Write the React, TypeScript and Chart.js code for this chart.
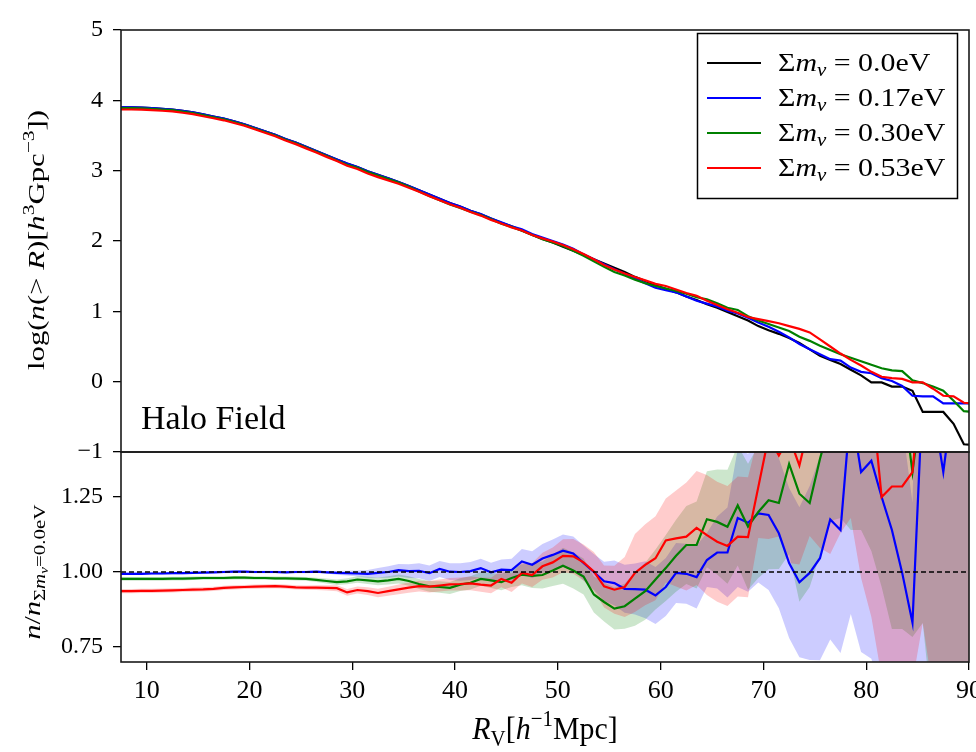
import React, { useEffect, useRef } from 'react';
import { Chart, registerables } from 'chart.js';

Chart.register(...registerables);

// ---------------- data ----------------
const R_V = [7.5, 8.5, 9.5, 10.5, 11.5, 12.5, 13.5, 14.5, 15.5, 16.5,
  17.5, 18.5, 19.5, 20.5, 21.5, 22.5, 23.5, 24.5, 25.5, 26.5,
  27.5, 28.5, 29.5, 30.5, 31.5, 32.5, 33.5, 34.5, 35.5, 36.5,
  37.5, 38.5, 39.5, 40.5, 41.5, 42.5, 43.5, 44.5, 45.5, 46.5,
  47.5, 48.5, 49.5, 50.5, 51.5, 52.5, 53.5, 54.5, 55.5, 56.5,
  57.5, 58.5, 59.5, 60.5, 61.5, 62.5, 63.5, 64.5, 65.5, 66.5,
  67.5, 68.5, 69.5, 70.5, 71.5, 72.5, 73.5, 74.5, 75.5, 76.5,
  77.5, 78.5, 79.5, 80.5, 81.5, 82.5, 83.5, 84.5, 85.5, 86.5,
  87.5, 88.5, 89.5, 90.5];

const LOGN_000 = [3.90, 3.90, 3.895, 3.89, 3.88, 3.87, 3.85, 3.83, 3.80, 3.77,
  3.74, 3.70, 3.66, 3.61, 3.56, 3.51, 3.45, 3.40, 3.34, 3.28,
  3.22, 3.16, 3.10, 3.05, 2.99, 2.94, 2.89, 2.84, 2.78, 2.72,
  2.66, 2.60, 2.54, 2.49, 2.43, 2.38, 2.32, 2.26, 2.21, 2.15,
  2.09, 2.03, 1.98, 1.92, 1.86, 1.80, 1.74, 1.68, 1.62, 1.56,
  1.49, 1.43, 1.37, 1.32, 1.27, 1.21, 1.16, 1.10, 1.05, 0.99,
  0.93, 0.87, 0.79, 0.73, 0.68, 0.62, 0.55, 0.46, 0.37, 0.31,
  0.25, 0.17, 0.09, -0.01, -0.01, -0.07, -0.07, -0.13, -0.43, -0.43,
  -0.43, -0.60, -0.89, -0.90];

const LOGN_017 = [3.90, 3.90, 3.895, 3.89, 3.88, 3.87, 3.85, 3.83, 3.80, 3.77,
  3.74, 3.70, 3.66, 3.61, 3.56, 3.51, 3.45, 3.40, 3.34, 3.28,
  3.22, 3.16, 3.10, 3.05, 2.99, 2.94, 2.89, 2.84, 2.78, 2.72,
  2.66, 2.60, 2.54, 2.49, 2.43, 2.385, 2.32, 2.265, 2.21, 2.165,
  2.10, 2.05, 2.00, 1.95, 1.89, 1.81, 1.74, 1.67, 1.60, 1.535,
  1.465, 1.40, 1.335, 1.30, 1.27, 1.21, 1.15, 1.11, 1.07, 1.01,
  0.97, 0.91, 0.84, 0.78, 0.71, 0.63, 0.535, 0.46, 0.39, 0.32,
  0.30, 0.20, 0.14, 0.12, 0.05, 0.01, -0.06, -0.20, -0.21, -0.21,
  -0.31, -0.31, -0.31, -0.31];

const LOGN_030 = [3.89, 3.89, 3.885, 3.88, 3.87, 3.86, 3.84, 3.82, 3.79, 3.76,
  3.73, 3.69, 3.65, 3.60, 3.55, 3.50, 3.44, 3.39, 3.33, 3.27,
  3.21, 3.145, 3.085, 3.04, 2.98, 2.93, 2.88, 2.83, 2.77, 2.705,
  2.64, 2.58, 2.52, 2.47, 2.415, 2.37, 2.31, 2.245, 2.20, 2.145,
  2.085, 2.025, 1.98, 1.93, 1.86, 1.79, 1.71, 1.635, 1.56, 1.51,
  1.45, 1.40, 1.36, 1.325, 1.29, 1.25, 1.20, 1.17, 1.115, 1.05,
  1.02, 0.93, 0.87, 0.82, 0.77, 0.72, 0.64, 0.58, 0.51, 0.45,
  0.39, 0.34, 0.29, 0.24, 0.19, 0.16, 0.15, 0.02, -0.02, -0.07,
  -0.13, -0.27, -0.42, -0.43];

const LOGN_053 = [3.87, 3.87, 3.867, 3.862, 3.852, 3.843, 3.823, 3.804, 3.774, 3.745,
  3.716, 3.677, 3.638, 3.589, 3.539, 3.489, 3.428, 3.377, 3.317, 3.257,
  3.196, 3.136, 3.07, 3.023, 2.961, 2.908, 2.861, 2.814, 2.757, 2.699,
  2.638, 2.58, 2.522, 2.472, 2.413, 2.361, 2.30, 2.25, 2.194, 2.149,
  2.086, 2.038, 1.994, 1.943, 1.882, 1.814, 1.741, 1.659, 1.594, 1.538,
  1.489, 1.44, 1.39, 1.36, 1.31, 1.26, 1.22, 1.15, 1.09, 1.03,
  0.98, 0.92, 0.89, 0.86, 0.83, 0.79, 0.75, 0.70, 0.60, 0.50,
  0.40, 0.31, 0.23, 0.14, 0.07, 0.05, 0.04, -0.01, -0.01, -0.10,
  -0.20, -0.21, -0.30, -0.31];

const RATIO_017 = [0.994, 0.994, 0.994, 0.995, 0.995, 0.996, 0.996, 0.997, 0.998, 0.999,
  1.000, 1.001, 1.001, 1.000, 1.000, 1.000, 0.999, 1.000, 1.000, 1.001,
  0.999, 0.997, 0.996, 0.995, 0.994, 0.997, 1.000, 1.006, 1.003, 1.004,
  0.996, 1.010, 1.001, 1.000, 1.003, 1.013, 0.999, 1.008, 1.006, 1.035,
  1.024, 1.045, 1.057, 1.071, 1.062, 1.030, 1.000, 0.969, 0.963, 0.944,
  0.943, 0.941, 0.922, 0.950, 0.997, 0.994, 0.983, 1.040, 1.065, 1.065,
  1.180, 1.164, 1.195, 1.190, 1.129, 1.030, 0.966, 0.997, 1.046, 1.175,
  1.140, 1.550, 1.333, 1.371, 1.250, 1.140, 0.997, 0.831, 1.600, 1.550,
  1.333, 1.600, 1.600, 1.600];

const RATIO_030 = [0.977, 0.977, 0.977, 0.977, 0.977, 0.978, 0.978, 0.979, 0.980, 0.980,
  0.980, 0.981, 0.981, 0.980, 0.980, 0.979, 0.979, 0.978, 0.977, 0.974,
  0.970, 0.966, 0.969, 0.975, 0.972, 0.969, 0.972, 0.977, 0.970, 0.960,
  0.952, 0.950, 0.947, 0.958, 0.964, 0.977, 0.972, 0.966, 0.980, 0.991,
  0.987, 0.990, 1.005, 1.021, 1.005, 0.985, 0.925, 0.900, 0.878, 0.886,
  0.911, 0.936, 0.975, 1.013, 1.054, 1.090, 1.090, 1.176, 1.167, 1.151,
  1.222, 1.151, 1.200, 1.239, 1.230, 1.360, 1.261, 1.230, 1.377, 1.500,
  1.600, 1.700, 1.800, 1.800, 1.800, 1.700, 1.600, 1.333, 1.600, 1.700,
  1.700, 1.700, 1.700, 1.700];

const RATIO_053 = [0.936, 0.936, 0.937, 0.937, 0.938, 0.939, 0.940, 0.941, 0.942, 0.944,
  0.947, 0.949, 0.950, 0.951, 0.952, 0.953, 0.951, 0.949, 0.948, 0.948,
  0.947, 0.946, 0.932, 0.940, 0.936, 0.930, 0.936, 0.942, 0.948, 0.953,
  0.951, 0.955, 0.959, 0.960, 0.962, 0.958, 0.955, 0.977, 0.964, 0.997,
  0.990, 1.019, 1.032, 1.054, 1.052, 1.032, 1.002, 0.952, 0.941, 0.950,
  0.997, 1.024, 1.046, 1.105, 1.112, 1.118, 1.147, 1.123, 1.101, 1.087,
  1.118, 1.116, 1.283, 1.450, 1.388, 1.450, 1.355, 1.500, 1.600, 1.700,
  1.700, 1.800, 1.700, 1.600, 1.250, 1.285, 1.285, 1.333, 1.700, 1.800,
  1.800, 1.800, 1.800, 1.800];

const ERR_017 = [0.004, 0.004, 0.004, 0.004, 0.004, 0.004, 0.004, 0.004, 0.004, 0.004,
  0.004, 0.004, 0.004, 0.004, 0.004, 0.004, 0.004, 0.004, 0.004, 0.004,
  0.004, 0.006, 0.008, 0.010, 0.013, 0.016, 0.019, 0.021, 0.023, 0.025,
  0.026, 0.027, 0.028, 0.029, 0.030, 0.031, 0.032, 0.034, 0.038, 0.042,
  0.045, 0.048, 0.051, 0.054, 0.056, 0.058, 0.060, 0.065, 0.075, 0.080,
  0.085, 0.095, 0.095, 0.097, 0.100, 0.100, 0.105, 0.090, 0.120, 0.150,
  0.230, 0.230, 0.230, 0.250, 0.250, 0.250, 0.250, 0.290, 0.340, 0.400,
  0.410, 0.690, 0.600, 0.660, 0.650, 0.600, 0.500, 0.400, 1.000, 1.000,
  1.000, 1.000, 1.000, 1.000];

const ERR_030 = [0.006, 0.006, 0.006, 0.006, 0.006, 0.006, 0.006, 0.006, 0.006, 0.006,
  0.006, 0.006, 0.006, 0.006, 0.006, 0.006, 0.006, 0.006, 0.006, 0.007,
  0.008, 0.009, 0.010, 0.011, 0.012, 0.013, 0.014, 0.015, 0.016, 0.017,
  0.018, 0.019, 0.020, 0.021, 0.022, 0.023, 0.025, 0.027, 0.030, 0.035,
  0.040, 0.045, 0.052, 0.060, 0.060, 0.060, 0.060, 0.065, 0.070, 0.075,
  0.090, 0.095, 0.100, 0.110, 0.120, 0.130, 0.145, 0.160, 0.175, 0.190,
  0.200, 0.210, 0.220, 0.230, 0.220, 0.300, 0.360, 0.280, 0.320, 0.330,
  0.420, 0.560, 0.660, 0.730, 0.850, 0.890, 0.790, 0.550, 0.770, 1.200,
  1.200, 1.200, 1.200, 1.200];

const ERR_053 = [0.007, 0.007, 0.007, 0.007, 0.007, 0.007, 0.007, 0.007, 0.007, 0.007,
  0.007, 0.007, 0.007, 0.007, 0.007, 0.007, 0.007, 0.007, 0.007, 0.008,
  0.009, 0.010, 0.011, 0.012, 0.013, 0.014, 0.015, 0.016, 0.017, 0.018,
  0.019, 0.020, 0.021, 0.022, 0.023, 0.024, 0.026, 0.028, 0.031, 0.035,
  0.040, 0.045, 0.050, 0.055, 0.058, 0.060, 0.065, 0.070, 0.080, 0.100,
  0.130, 0.135, 0.140, 0.140, 0.160, 0.180, 0.190, 0.200, 0.200, 0.200,
  0.200, 0.200, 0.170, 0.340, 0.270, 0.420, 0.330, 0.380, 0.520, 0.640,
  0.570, 0.620, 0.720, 0.750, 0.600, 0.700, 0.700, 0.700, 0.870, 1.200,
  1.200, 1.200, 1.200, 1.200];

const MASSES = ['0.0', '0.17', '0.30', '0.53'];
const TOP_Y_TICKS = [-1, 0, 1, 2, 3, 4, 5];
const BOTTOM_Y_TICKS = [0.75, 1.0, 1.25];
const X_TICKS = [10, 20, 30, 40, 50, 60, 70, 80, 90];
const X_RANGE = [7.5, 90];
const TOP_Y_RANGE = [-1, 5];
const BOTTOM_Y_RANGE = [0.7, 1.4];
const REFERENCE_RATIO = 1.0;
const PANEL_LABEL = 'Halo Field';

// ---------------- styling ----------------
const FONT = "'Liberation Serif', 'DejaVu Serif', serif";
const COLORS = ['#000000', '#0000ff', '#008000', '#ff0000'];
const BAND_COLORS = ['rgba(0,0,255,0.2)', 'rgba(0,128,0,0.2)', 'rgba(255,0,0,0.2)'];

type Seg = { t: string; i?: boolean; l?: number };

function segStyle(size: number, s: Seg) {
  const lv = s.l || 0;
  const f = lv === 0 ? 1 : Math.abs(lv) === 1 ? 0.7 : 0.5;
  const dy = lv === 1 ? -0.4 * size : lv === -1 ? 0.2 * size : lv === -2 ? 0.34 * size : 0;
  return { font: `${s.i ? 'italic ' : ''}${(size * f).toFixed(1)}px ${FONT}`, dy };
}

function drawRich(ctx: CanvasRenderingContext2D, segs: Seg[], x: number, y: number, size: number,
  o: { align?: 'left' | 'center'; rotate?: boolean; sx?: number; sy?: number } = {}) {
  ctx.save();
  ctx.translate(x, y);
  if (o.rotate) ctx.rotate(-Math.PI / 2);
  ctx.scale(o.sx ?? 1, o.sy ?? 1);
  ctx.textBaseline = 'alphabetic';
  ctx.textAlign = 'left';
  ctx.fillStyle = '#000';
  let total = 0;
  const ws = segs.map((s) => {
    ctx.font = segStyle(size, s).font;
    const w = ctx.measureText(s.t).width;
    total += w;
    return w;
  });
  let cx = o.align === 'center' ? -total / 2 : 0;
  segs.forEach((s, k) => {
    const st = segStyle(size, s);
    ctx.font = st.font;
    ctx.fillText(s.t, cx, st.dy);
    cx += ws[k];
  });
  ctx.restore();
}

function drawFrame(chart: any) {
  const { ctx, chartArea: a } = chart;
  ctx.save();
  ctx.strokeStyle = '#1a1a1a';
  ctx.lineWidth = 1.6;
  ctx.strokeRect(a.left, a.top, a.right - a.left, a.bottom - a.top);
  ctx.restore();
}

const noPad = (s: any) => {
  s.paddingTop = 0;
  s.paddingBottom = 0;
  s.paddingLeft = 0;
  s.paddingRight = 0;
};

const pts = (ys: number[]) => R_V.map((x, i) => ({ x, y: ys[i] }));
const bandPts = (r: number[], e: number[], sign: number) => R_V.map((x, i) => ({ x, y: r[i] + sign * e[i] }));

const tickFont = (size: number) => ({ family: FONT, size });

export default function App() {
  const topRef = useRef<HTMLCanvasElement>(null);
  const botRef = useRef<HTMLCanvasElement>(null);

  useEffect(() => {
    const topSeries = [LOGN_000, LOGN_017, LOGN_030, LOGN_053];

    const topDecor = {
      id: 'topDecor',
      afterDraw(chart: any) {
        const ctx: CanvasRenderingContext2D = chart.ctx;
        drawFrame(chart);
        drawRich(ctx, [
          { t: 'log(' }, { t: 'n', i: true }, { t: '(> ' }, { t: 'R', i: true }, { t: ')[' },
          { t: 'h', i: true }, { t: '3', l: 1 }, { t: 'Gpc' }, { t: '\u22123', l: 1 }, { t: '])' },
        ], 44, 240, 24, { align: 'center', rotate: true, sx: 1.28 });
        ctx.save();
        ctx.font = `34px ${FONT}`;
        ctx.fillStyle = '#000';
        ctx.textBaseline = 'alphabetic';
        ctx.fillText(PANEL_LABEL, 141, 429);
        ctx.restore();
        ctx.save();
        ctx.fillStyle = 'rgba(255,255,255,0.85)';
        ctx.fillRect(697, 33, 261, 166);
        ctx.strokeStyle = '#000';
        ctx.lineWidth = 1.5;
        ctx.strokeRect(697.5, 33.5, 260, 165);
        MASSES.forEach((m, k) => {
          const y = 63 + 35 * k;
          ctx.strokeStyle = COLORS[k];
          ctx.lineWidth = 2;
          ctx.beginPath();
          ctx.moveTo(707, y);
          ctx.lineTo(761, y);
          ctx.stroke();
          drawRich(ctx, [
            { t: '\u03a3' }, { t: 'm', i: true }, { t: '\u03bd', i: true, l: -1 }, { t: ' = ' + m + 'eV' },
          ], 778, y + 8, 26, { sx: 1.15 });
        });
        ctx.restore();
      },
    };

    const top = new Chart(topRef.current!, {
      type: 'line',
      data: {
        datasets: topSeries.map((s, k) => ({
          data: pts(s),
          borderColor: COLORS[k],
          borderWidth: 2.2,
          pointRadius: 0,
          fill: false,
          tension: 0,
          order: 10 - k,
        })),
      },
      options: {
        animation: false,
        responsive: false,
        devicePixelRatio: 1,
        layout: { padding: { top: 30, right: 7, bottom: 18, left: 0 } },
        plugins: { legend: { display: false }, tooltip: { enabled: false } },
        scales: {
          x: { type: 'linear', min: X_RANGE[0], max: X_RANGE[1], display: false },
          y: {
            type: 'linear', min: TOP_Y_RANGE[0], max: TOP_Y_RANGE[1],
            afterFit: (s: any) => { s.width = 121; noPad(s); },
            afterBuildTicks: (s: any) => { s.ticks = TOP_Y_TICKS.map((v) => ({ value: v })); },
            ticks: {
              color: '#000', font: tickFont(24), padding: 10,
              callback: (v: any) => (Number(v) < 0 ? '\u2212' + Math.abs(Number(v)) : String(v)),
            },
            grid: { drawOnChartArea: false, tickLength: 8, color: '#000', lineWidth: 1.3 },
            border: { display: false },
          },
        },
      } as any,
      plugins: [topDecor],
    });

    const ratios = [RATIO_017, RATIO_030, RATIO_053];
    const errs = [ERR_017, ERR_030, ERR_053];
    const lineSets = ratios.map((r, k) => ({
      data: pts(r), borderColor: COLORS[k + 1], borderWidth: 2.2, pointRadius: 0, fill: false, tension: 0, order: 3 - k,
    }));
    const bandSets: any[] = [];
    ratios.forEach((r, k) => {
      bandSets.push({
        data: bandPts(r, errs[k], 1), borderWidth: 0, borderColor: 'transparent', pointRadius: 0,
        backgroundColor: BAND_COLORS[k], fill: '+1', tension: 0, order: 30 - k * 2,
      });
      bandSets.push({
        data: bandPts(r, errs[k], -1), borderWidth: 0, borderColor: 'transparent', pointRadius: 0,
        fill: false, tension: 0, order: 29 - k * 2,
      });
    });
    const refSet = {
      data: [{ x: X_RANGE[0], y: REFERENCE_RATIO }, { x: X_RANGE[1], y: REFERENCE_RATIO }],
      borderColor: '#000', borderWidth: 1.4, borderDash: [5, 3], pointRadius: 0, fill: false, order: 0,
    };

    const botDecor = {
      id: 'botDecor',
      afterDraw(chart: any) {
        const ctx: CanvasRenderingContext2D = chart.ctx;
        drawFrame(chart);
        drawRich(ctx, [
          { t: 'n', i: true }, { t: '/' }, { t: 'n', i: true }, { t: '\u03a3', l: -1 }, { t: 'm', i: true, l: -1 },
          { t: '\u03bd', i: true, l: -2 }, { t: '=0.0eV', l: -1 },
        ], 40, 132, 24, { align: 'center', rotate: true, sx: 1.25 });
        drawRich(ctx, [
          { t: 'R', i: true }, { t: 'V', l: -1 }, { t: '[' }, { t: 'h', i: true }, { t: '\u22121', l: 1 }, { t: 'Mpc]' },
        ], 545, 299, 26, { align: 'center', sx: 1.15, sy: 1.25 });
      },
    };

    const bot = new Chart(botRef.current!, {
      type: 'line',
      data: { datasets: [refSet, ...lineSets, ...bandSets] as any },
      options: {
        animation: false,
        responsive: false,
        devicePixelRatio: 1,
        layout: { padding: { top: 12, right: 7, bottom: 0, left: 0 } },
        plugins: { legend: { display: false }, tooltip: { enabled: false } },
        scales: {
          x: {
            type: 'linear', min: X_RANGE[0], max: X_RANGE[1],
            afterFit: (s: any) => { s.height = 90; noPad(s); },
            afterBuildTicks: (s: any) => { s.ticks = X_TICKS.map((v) => ({ value: v })); },
            ticks: { color: '#000', font: tickFont(26), padding: 6, maxRotation: 0, autoSkip: false },
            grid: { drawOnChartArea: false, tickLength: 8, color: '#000', lineWidth: 1.3 },
            border: { display: false },
          },
          y: {
            type: 'linear', min: BOTTOM_Y_RANGE[0], max: BOTTOM_Y_RANGE[1],
            afterFit: (s: any) => { s.width = 121; noPad(s); },
            afterBuildTicks: (s: any) => { s.ticks = BOTTOM_Y_TICKS.map((v) => ({ value: v })); },
            ticks: { color: '#000', font: tickFont(24), padding: 10, callback: (v: any) => Number(v).toFixed(2) },
            grid: { drawOnChartArea: false, tickLength: 8, color: '#000', lineWidth: 1.3 },
            border: { display: false },
          },
        },
      } as any,
      plugins: [botDecor],
    });

    return () => {
      top.destroy();
      bot.destroy();
    };
  }, []);

  return (
    <div style={{ position: 'absolute', left: 0, top: 0, width: 976, height: 752, background: '#fff', overflow: 'hidden' }}>
      <canvas ref={botRef} width={976} height={312}
        style={{ position: 'absolute', left: 0, top: 440, width: 976, height: 312 }} />
      <canvas ref={topRef} width={976} height={470}
        style={{ position: 'absolute', left: 0, top: 0, width: 976, height: 470 }} />
    </div>
  );
}
